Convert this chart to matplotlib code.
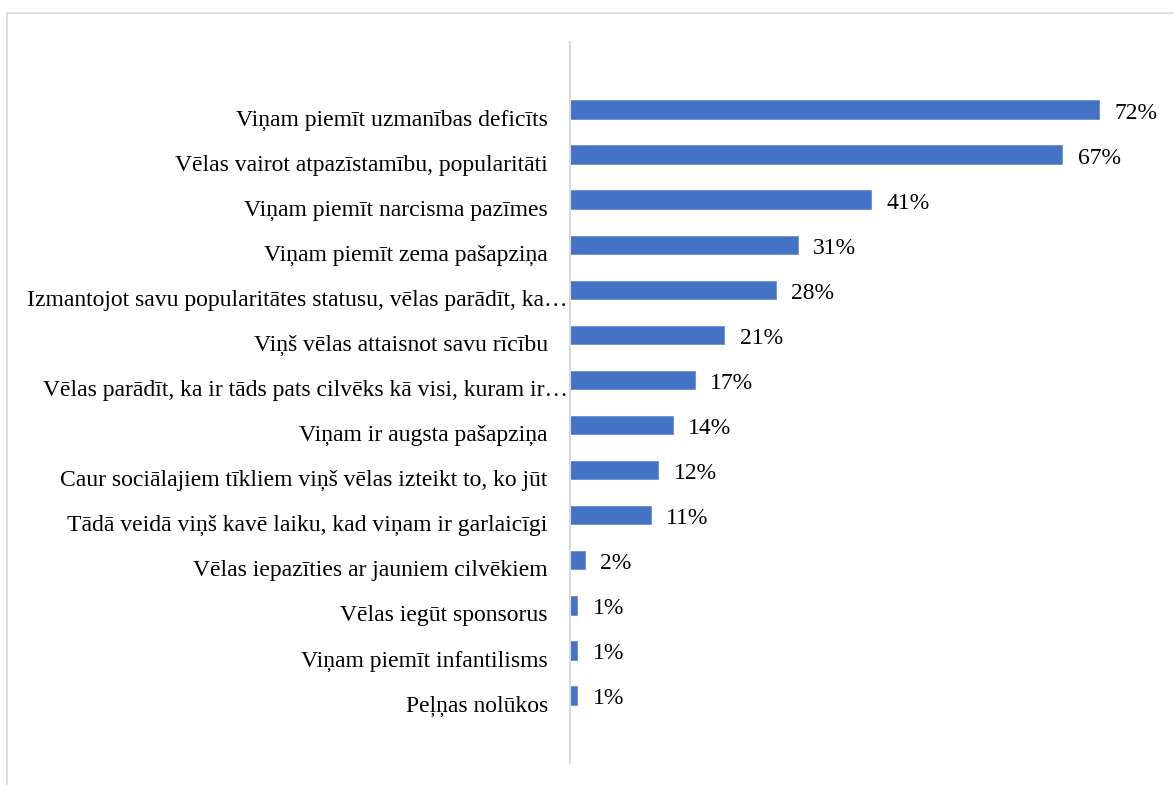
import matplotlib
matplotlib.use("Agg")
import matplotlib.pyplot as plt
import matplotlib.transforms as mtransforms
from matplotlib.lines import Line2D

categories = [
    "Viņam piemīt uzmanības deficīts",
    "Vēlas vairot atpazīstamību, popularitāti",
    "Viņam piemīt narcisma pazīmes",
    "Viņam piemīt zema pašapziņa",
    "Izmantojot savu popularitātes statusu, vēlas parādīt, ka…",
    "Viņš vēlas attaisnot savu rīcību",
    "Vēlas parādīt, ka ir tāds pats cilvēks kā visi, kuram ir…",
    "Viņam ir augsta pašapziņa",
    "Caur sociālajiem tīkliem viņš vēlas izteikt to, ko jūt",
    "Tādā veidā viņš kavē laiku, kad viņam ir garlaicīgi",
    "Vēlas iepazīties ar jauniem cilvēkiem",
    "Vēlas iegūt sponsorus",
    "Viņam piemīt infantilisms",
    "Peļņas nolūkos",
]
values = [72, 67, 41, 31, 28, 21, 17, 14, 12, 11, 2, 1, 1, 1]
value_labels = ["72%", "67%", "41%", "31%", "28%", "21%", "17%", "14%", "12%", "11%", "2%", "1%", "1%", "1%"]

plt.rcParams['font.family'] = ['Liberation Serif', 'DejaVu Serif']

W, H = 1174, 785
fig = plt.figure(figsize=(W / 100, H / 100), dpi=100)
fig.patch.set_facecolor("white")

ax_left = 570 / W
ax_bottom = 1 - 763 / H
ax_top = 1 - 42 / H
ax_right = (570 + 80 * 7.35) / W
ax = fig.add_axes([ax_left, ax_bottom, ax_right - ax_left, ax_top - ax_bottom])

n = len(categories)
ypos = list(range(n))
ax.barh(ypos, values, height=0.41, color="#4472C4", edgecolor="#6A8FD4", linewidth=0.6)
ax.set_ylim(n - 1 + 1.5, -1.5)
ax.set_xlim(0, 80)

FS = 17
ax.set_yticks(ypos)
ax.set_yticklabels(categories, fontsize=FS, color="#000000")
ax.tick_params(axis="y", length=0, pad=16)
ax.set_xticks([])

for i, lab in enumerate(ax.get_yticklabels()):
    dx = 20 / 100 if categories[i].endswith("…") else 0
    lab.set_transform(lab.get_transform() + mtransforms.ScaledTranslation(dx, -8 / 100, fig.dpi_scale_trans))

for y, v, t in zip(ypos, values, value_labels):
    ax.annotate(t, xy=(v, y), xytext=(11, -2.5), textcoords="offset points",
                va="center", ha="left", fontsize=FS, color="#000000")

for side in ["top", "right", "bottom"]:
    ax.spines[side].set_visible(False)
ax.spines["left"].set_color("#D9D9D9")
ax.spines["left"].set_linewidth(1.5)

# outer frame (light gray)
fig.add_artist(Line2D([6.5 / W, 1.0], [1 - 13 / H, 1 - 13 / H], color="#D9D9D9", linewidth=1.2, transform=fig.transFigure))
fig.add_artist(Line2D([6.5 / W, 6.5 / W], [0.0, 1 - 13 / H], color="#D9D9D9", linewidth=1.2, transform=fig.transFigure))

fig.savefig("out.png", dpi=100, facecolor="white")
